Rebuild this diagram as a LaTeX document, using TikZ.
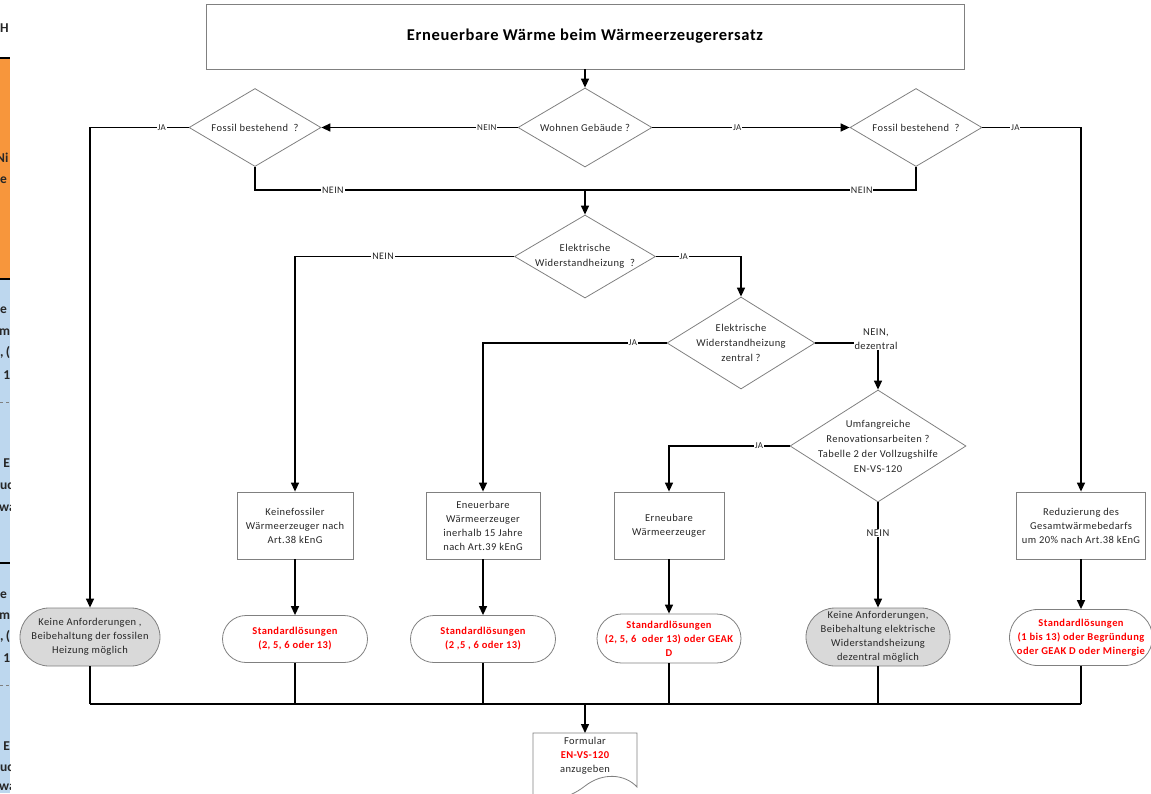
\documentclass[tikz,border=0pt]{standalone}
\usepackage{fontspec}
\setmainfont{Carlito}
\newfontfamily\spaced[LetterSpace=4]{Carlito}
\usetikzlibrary{shapes.geometric,arrows.meta}
\definecolor{shapegray}{HTML}{808080}
\definecolor{termgray}{HTML}{D9D9D9}
\definecolor{stripor}{HTML}{F7963C}
\definecolor{stripbl}{HTML}{BDD7EE}
\definecolor{txt}{HTML}{262626}
\newcommand\dfnt{\spaced\fontsize{10.5}{15}\selectfont}
\newcommand\bfnt{\spaced\fontsize{10.5}{14}\selectfont}
\newcommand\rfnt{\spaced\bfseries\fontsize{10.5}{14}\selectfont}
\tikzset{
  dec/.style={diamond, draw=shapegray, line width=0.8pt, inner sep=0pt},
  dtext/.style={font=\dfnt, align=center, text=txt},
  stepbox/.style={rectangle, draw=shapegray, line width=0.8pt, inner sep=1pt, align=center, font=\bfnt, text=txt},
  term/.style={rectangle, draw=shapegray, line width=0.8pt, inner sep=0pt, align=center},
  greyterm/.style={term, fill=termgray, font=\bfnt, text=txt},
  redterm/.style={term, fill=white, font=\rfnt, text=red},
  conn/.style={line width=1.4pt, black},
  arr/.style={conn, -{Triangle[length=9pt,width=8pt]}},
  lbl/.style={fill=white, inner sep=1pt, font=\spaced\fontsize{9}{9}\selectfont, text=txt},
  lbltwo/.style={fill=white, inner sep=1pt, font=\spaced\fontsize{10}{10}\selectfont, text=txt},
  lblthree/.style={fill=white, inner sep=1pt, align=center, font=\spaced\fontsize{10.5}{14}\selectfont, text=txt},
  frag/.style={anchor=west, inner sep=0pt, font=\bfseries\fontsize{13.5}{13.5}\selectfont, text=txt}
}
\begin{document}
\begin{tikzpicture}[x=1pt,y=-1pt]
\useasboundingbox (0,0) rectangle (1151,793);
\clip (0,0) rectangle (1151,793);
% left strip (cut-off part of a neighbouring table)
\begin{scope}
\clip (0,0) rectangle (10,793);
\fill[stripor] (0,58) rectangle (10,278);
\fill[stripbl] (0,279) rectangle (10,793);
\draw[line width=1.3pt] (0,58) -- (10,58);
\draw[line width=1.3pt] (0,279) -- (10,279);
\draw[line width=1.3pt] (0,563) -- (10,563);
\draw[gray, dashed, line width=0.6pt] (0,402) -- (10,402);
\draw[gray, dashed, line width=0.6pt] (0,685) -- (10,685);
\node[frag] (f1) at (0,28) {H};
\node[frag] (f2) at (-4,158) {Ni};
\node[frag] (f3) at (0,180) {e};
\node[frag] (f4) at (0,310) {e};
\node[frag] (f5) at (-1,332) {m};
\node[frag] (f6) at (0,353) {,\,(};
\node[frag] (f7) at (1,375) {\,1};
\node[frag] (f8) at (1,463) {\,E};
\node[frag] (f9) at (0,486) {uc};
\node[frag] (f10) at (-1,508) {wa};
\node[frag] (f11) at (0,595) {e};
\node[frag] (f12) at (-1,616) {m};
\node[frag] (f13) at (0,637) {,\,(};
\node[frag] (f14) at (1,658) {\,1};
\node[frag] (f15) at (1,746) {\,E};
\node[frag] (f16) at (0,768) {uc};
\node[frag] (f17) at (-1,787) {wa};
\end{scope}

% title
\node[rectangle, draw=shapegray, line width=0.8pt, minimum width=758pt, minimum height=65pt, font=\spaced\bfseries\fontsize{16.5}{18}\selectfont, text=black] (title) at (585,36.5) {Erneuerbare Wärme beim Wärmeerzeugerersatz};

% decisions
\node[dec, minimum width=134pt, minimum height=79pt, label={[dtext]center:Wohnen Gebäude ?}] (wohnen) at (585,127.5) {};
\node[dec, minimum width=132pt, minimum height=78pt, label={[dtext]center:Fossil bestehend\ \ ?}] (fosL) at (255,127.5) {};
\node[dec, minimum width=132pt, minimum height=78pt, label={[dtext]center:Fossil bestehend\ \ ?}] (fosR) at (916,127.5) {};
\node[dec, minimum width=141pt, minimum height=83pt, label={[dtext]center:Elektrische\\Widerstandheizung\ \ ?}] (elek) at (585,256.5) {};
\node[dec, minimum width=148pt, minimum height=92pt, label={[dtext]center:Elektrische\\Widerstandheizung\\zentral ?}] (zen) at (741,343) {};
\node[dec, minimum width=176pt, minimum height=112pt, label={[dtext]center:Umfangreiche\\Renovationsarbeiten ?\\Tabelle 2 der Vollzugshilfe\\EN-VS-120}] (umf) at (878,446) {};

% process boxes
\node[stepbox, minimum width=116pt, minimum height=67pt] (kf) at (295,525.5) {Keinefossiler\\Wärmeerzeuger nach\\Art.38 kEnG};
\node[stepbox, minimum width=114pt, minimum height=67pt] (ee) at (483,525.5) {Eneuerbare\\Wärmeerzeuger\\inerhalb 15 Jahre\\nach Art.39 kEnG};
\node[stepbox, minimum width=110pt, minimum height=67pt] (erb) at (669,525.5) {Erneubare\\Wärmeerzeuger};
\node[stepbox, minimum width=129pt, minimum height=67pt] (reduz) at (1081,525.5) {Reduzierung des\\Gesamtwärmebedarfs\\um 20\% nach Art.38 kEnG};

% terminals
\node[greyterm, minimum width=140pt, minimum height=58pt, rounded corners=29pt] (grey1) at (90,637) {Keine Anforderungen ,\\Beibehaltung der fossilen\\Heizung möglich};
\node[redterm, minimum width=145pt, minimum height=47pt, rounded corners=23.5pt] (red1) at (295,639) {Standardlösungen\\(2, 5, 6 oder 13)};
\node[redterm, minimum width=145pt, minimum height=47pt, rounded corners=23.5pt] (red2) at (483,639) {Standardlösungen\\(2 ,5 , 6 oder 13)};
\node[redterm, minimum width=144pt, minimum height=49pt, rounded corners=24.5pt] (red3) at (669,638.5) {Standardlösungen\\(2, 5, 6\ \ oder 13) oder GEAK\\D};
\node[greyterm, minimum width=144pt, minimum height=58pt, rounded corners=29pt] (grey2) at (878,637) {Keine Anforderungen,\\Beibehaltung elektrische\\Widerstandsheizung\\dezentral möglich};
\node[redterm, minimum width=143pt, minimum height=56pt, rounded corners=28pt] (red5) at (1081,637.5) {Standardlösungen\\(1 bis 13) oder Begründung\\oder GEAK D oder Minergie};

% document (flowchart "document" symbol, cut off by the lower edge)
\coordinate (doc) at (585,733);
\draw[shapegray, line width=0.8pt, fill=white] (533,733) -- (637,733) -- (637,787)
  .. controls (625,774) and (603,772) .. (585,786)
  .. controls (567,800) and (548,802) .. (533,797) -- cycle;
\node[inner sep=0pt, align=center, font=\bfnt, text=txt] (doctext) at (585,756) {Formular\\{\color{red}\bfseries EN-VS-120}\\anzugeben};

% connectors
\draw[arr] (title) -- (wohnen);
\draw[arr] (wohnen.west) -- node[lbl, pos=0.157] {NEIN} (fosL.east);
\draw[arr] (wohnen.east) -- node[lbl, pos=0.43] {JA} (fosR.west);
\draw[arr] (fosL.west) -| node[lbl, pos=0.136] {JA} (grey1.north);
\draw[arr] (fosR.east) -| node[lbl, pos=0.167] {JA} (reduz.north);
\coordinate (m1) at (585,190);
\draw[conn] (fosL.south) |- node[lbltwo, pos=0.618] {NEIN} (m1);
\draw[conn] (fosR.south) |- node[lbltwo, pos=0.582] {NEIN} (m1);
\draw[arr] (m1) -- (elek.north);
\draw[arr] (elek.west) -| node[lbltwo, pos=0.299] {NEIN} (kf.north);
\draw[arr] (elek.east) -| node[lbl, pos=0.163] {JA} (zen.north);
\draw[arr] (zen.west) -| node[lbl, pos=0.092] {JA} (ee.north);
\draw[arr] (zen.east) -| node[lblthree, pos=0.5, yshift=4pt, xshift=-2pt] {NEIN,\\dezentral} (umf.north);
\draw[arr] (umf.west) -| node[lbl, pos=0.127] {JA} (erb.north);
\draw[arr] (umf.south) -- node[lblthree, pos=0.29] {NEIN} (grey2.north);
\draw[arr] (kf) -- (red1);
\draw[arr] (ee) -- (red2);
\draw[arr] (erb) -- (red3);
\draw[arr] (reduz) -- (red5);
\coordinate (bot) at (585,704);
\foreach \n in {grey1,red1,red2,red3,grey2,red5}
  \draw[conn] (\n.south) -- (\n.south |- bot);
\draw[conn] (grey1.south |- bot) -- (red5.south |- bot);
\draw[arr] (bot) -- (doc);
\end{tikzpicture}
\end{document}
